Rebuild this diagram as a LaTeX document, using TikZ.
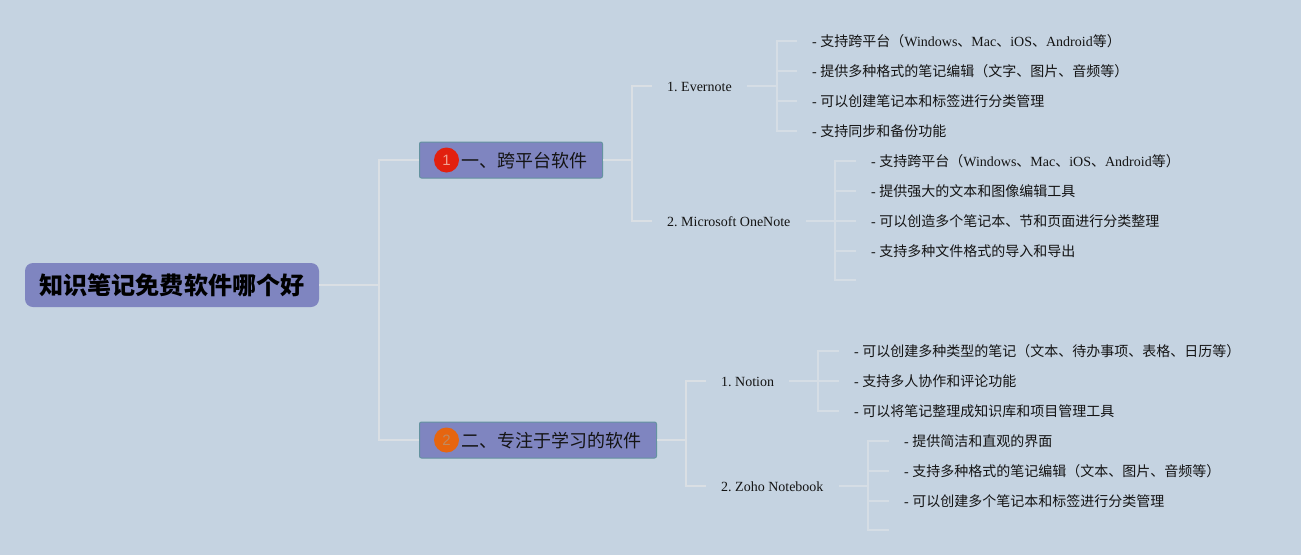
\documentclass[tikz,border=0pt]{standalone}
\usepackage{fontspec}
\setmainfont{Liberation Serif}
\newfontfamily\cjk{Noto Sans CJK SC}
\newfontfamily\badgefont{Liberation Sans}
\newcommand{\C}[1]{{\cjk #1}}
\frenchspacing
\definecolor{bgc}{HTML}{C5D3E1}
\definecolor{boxc}{HTML}{7F85C0}
\definecolor{edgec}{HTML}{6493A0}
\definecolor{linec}{HTML}{DADFE4}
\definecolor{linef}{HTML}{D5DDE5}
\definecolor{textc}{HTML}{141414}
\definecolor{badgea}{HTML}{E2200E}
\definecolor{badgeb}{HTML}{E6650F}
\definecolor{numa}{HTML}{F0A090}
\definecolor{numb}{HTML}{C08A60}
\tikzset{
  conn/.style={draw=linec,line width=1.4pt},
  connf/.style={draw=linef,line width=1.4pt},
  rootbox/.style={fill=boxc,rounded corners=8pt,minimum width=294pt,minimum height=44pt,inner sep=0pt,text height=25pt,text depth=6pt,font=\fontsize{24.1}{28}\selectfont\cjk\bfseries,text=black},
  branchbox/.style={fill=boxc,draw=edgec,line width=1pt,rounded corners=2pt,anchor=west,inner xsep=15.5pt,inner ysep=0pt,minimum height=36pt,text height=18pt,text depth=4pt,font=\fontsize{18}{22}\selectfont,text=textc},
  midtext/.style={anchor=west,inner xsep=15pt,inner ysep=0pt,text height=14pt,text depth=3pt,font=\fontsize{14}{16}\selectfont,text=textc},
  leaftext/.style={midtext},
  badge/.style={circle,minimum size=25pt,inner sep=0pt,font=\fontsize{15}{16}\selectfont\badgefont},
}
\begin{document}
\begin{tikzpicture}[x=1pt,y=-1pt]
\useasboundingbox (0,0) rectangle (1301,555);
\fill[bgc] (0,0) rectangle (1301,555);
% nodes
\node[rootbox] (root) at (172,285) {知识笔记免费软件哪个好};
\node[branchbox] (b1) at (419,160) {\hspace*{26pt}\C{一、跨平台软件}};
\node[branchbox] (b2) at (419,440) {\hspace*{26pt}\C{二、专注于学习的软件}};
\node[badge,fill=badgea,text=numa] (i1) at (446.5,160) {1};
\node[badge,fill=badgeb,text=numb] (i2) at (446.5,440) {2};
\node[midtext] (m1) at (652,86) {1. Evernote};
\node[midtext] (m2) at (652,221) {2. Microsoft OneNote};
\node[midtext] (m3) at (706,381) {1. Notion};
\node[midtext] (m4) at (706,486) {2. Zoho Notebook};
\node[leaftext] (a1) at (797,41) {- \C{支持跨平台（}Windows\C{、}Mac\C{、}iOS\C{、}Android\C{等）}};
\node[leaftext] (a2) at (797,71) {- \C{提供多种格式的笔记编辑（文字、图片、音频等）}};
\node[leaftext] (a3) at (797,101) {- \C{可以创建笔记本和标签进行分类管理}};
\node[leaftext] (a4) at (797,131) {- \C{支持同步和备份功能}};
\node[leaftext] (c1) at (856,161) {- \C{支持跨平台（}Windows\C{、}Mac\C{、}iOS\C{、}Android\C{等）}};
\node[leaftext] (c2) at (856,191) {- \C{提供强大的文本和图像编辑工具}};
\node[leaftext] (c3) at (856,221) {- \C{可以创造多个笔记本、节和页面进行分类整理}};
\node[leaftext] (c4) at (856,251) {- \C{支持多种文件格式的导入和导出}};
\coordinate (c5) at (856,280);
\node[leaftext] (d1) at (839,351) {- \C{可以创建多种类型的笔记（文本、待办事项、表格、日历等）}};
\node[leaftext] (d2) at (839,381) {- \C{支持多人协作和评论功能}};
\node[leaftext] (d3) at (839,411) {- \C{可以将笔记整理成知识库和项目管理工具}};
\node[leaftext] (e1) at (889,441) {- \C{提供简洁和直观的界面}};
\node[leaftext] (e2) at (889,471) {- \C{支持多种格式的笔记编辑（文本、图片、音频等）}};
\node[leaftext] (e3) at (889,501) {- \C{可以创建多个笔记本和标签进行分类管理}};
\coordinate (e4) at (889,530);
% spines
\coordinate (s0) at (379,285);
\coordinate (s1) at (632,160);
\coordinate (s2) at (686,440);
\coordinate (s3) at (777,86);
\coordinate (s4) at (835,221);
\coordinate (s5) at (818,381);
\coordinate (s6) at (868,486);
% connectors
\draw[conn] (root.east) -- (s0);
\draw[conn] (b1.west) -| (s0);
\draw[conn] (b2.west) -| (s0);
\draw[conn] (b1.east) -- (s1);
\draw[conn] (m1.west) -| (s1);
\draw[conn] (m2.west) -| (s1);
\draw[conn] (b2.east) -- (s2);
\draw[conn] (m3.west) -| (s2);
\draw[conn] (m4.west) -| (s2);
\draw[connf] (m1.east) -- (s3);
\draw[connf] (a1.west) -| (s3);
\draw[connf] (a2.west) -| (s3);
\draw[connf] (a3.west) -| (s3);
\draw[connf] (a4.west) -| (s3);
\draw[connf] (m2.east) -- (s4);
\draw[connf] (c1.west) -| (s4);
\draw[connf] (c2.west) -| (s4);
\draw[connf] (c3.west) -- (s4);
\draw[connf] (c4.west) -| (s4);
\draw[connf] (c5) -| (s4);
\draw[connf] (m3.east) -- (s5);
\draw[connf] (d1.west) -| (s5);
\draw[connf] (d2.west) -- (s5);
\draw[connf] (d3.west) -| (s5);
\draw[connf] (m4.east) -- (s6);
\draw[connf] (e1.west) -| (s6);
\draw[connf] (e2.west) -| (s6);
\draw[connf] (e3.west) -| (s6);
\draw[connf] (e4) -| (s6);
\end{tikzpicture}
\end{document}
